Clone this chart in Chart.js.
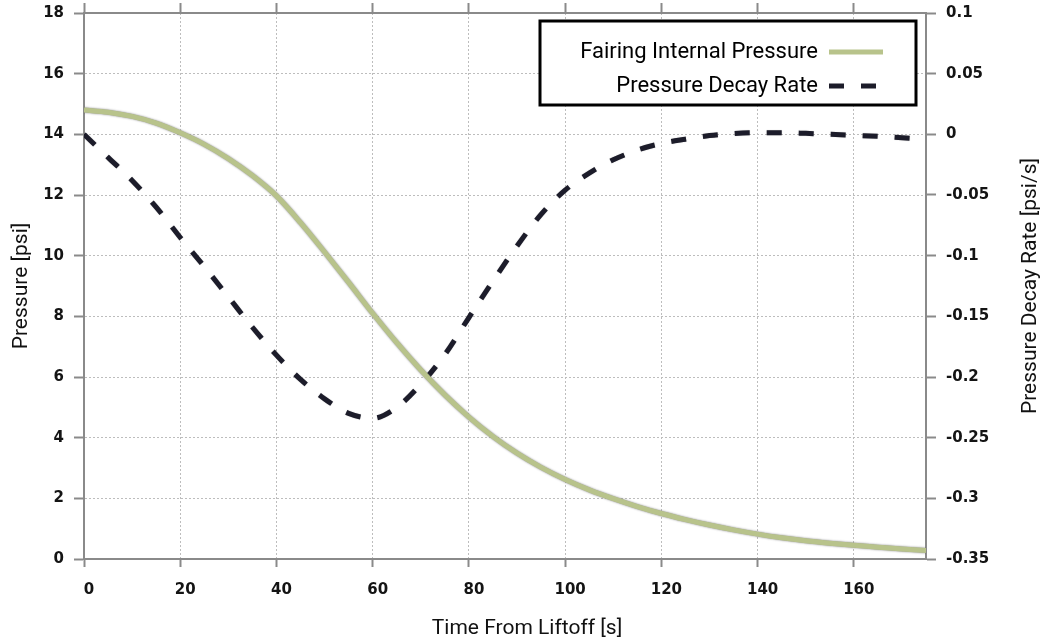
<!DOCTYPE html>
<html>
<head>
<meta charset="utf-8">
<script src="https://cdn.jsdelivr.net/npm/chart.js@4"></script>
<style>
html,body{margin:0;padding:0;background:#ffffff;}
#wrap{width:1047px;height:644px;position:relative;}
</style>
</head>
<body>
<div id="wrap"><canvas id="c"></canvas></div>
<script>
// ---- data ----
const timeFromLiftoff = [0,5,10,15,20,25,30,35,40,45,50,55,60,65,70,75,80,85,90,95,100,105,110,115,120,125,130,135,140,145,150,155,160,165,170,175];
const fairingPressure = [14.8,14.73,14.59,14.37,14.05,13.67,13.2,12.64,11.97,11.09,10.12,9.12,8.1,7.13,6.23,5.41,4.68,4.04,3.49,3.02,2.62,2.28,1.99,1.73,1.5,1.3,1.12,0.96,0.82,0.7,0.6,0.52,0.45,0.39,0.33,0.28];
const pressureDecayRate = [0,-0.019,-0.038,-0.06,-0.085,-0.109,-0.134,-0.159,-0.182,-0.202,-0.218,-0.23,-0.234,-0.225,-0.206,-0.1815,-0.151,-0.121,-0.092,-0.066,-0.046,-0.032,-0.021,-0.013,-0.0075,-0.004,-0.001,0.0007,0.0014,0.0014,0.0008,0,-0.0008,-0.0016,-0.0028,-0.004];
const seriesLabels = ['Fairing Internal Pressure','Pressure Decay Rate'];
const axisTitles = {x:'Time From Liftoff [s]', y:'Pressure [psi]', y1:'Pressure Decay Rate [psi/s]'};
const xRange = {min:0, max:175, step:20};
const yRange = {min:0, max:18, step:2};
const y1Range = {min:-0.35, max:0.1, step:0.05};

// ---- styling ----
const tickFont = {family:'DejaVu Sans', size:15, weight:'bold'};
const titleFont = {family:'Roboto', size:21};
const legendFont = {family:'Roboto', size:22};
const gridCol = '#bdbdbd';
const axisCol = '#8a8a8a';
const tickTextCol = '#141414';

function drawText(ctx, text, x, y, rot){
  ctx.save();
  ctx.translate(x, y);
  ctx.rotate(rot);
  ctx.font = titleFont.size + 'px ' + titleFont.family;
  ctx.fillStyle = '#111111';
  ctx.textAlign = 'center';
  ctx.textBaseline = 'middle';
  ctx.fillText(text, 0, 0);
  ctx.restore();
}

const legendFrame = {
  id:'legendFrame',
  afterLayout(chart){
    const lg = chart.legend, ca = chart.chartArea;
    lg.left = ca.right - 386; lg.width = 355; lg.right = lg.left + lg.width;
    lg.top = ca.top + 16; lg.height = 100; lg.bottom = lg.top + lg.height;
  },
  afterDraw(chart){
    const ctx = chart.ctx, ca = chart.chartArea;
    const x0 = ca.right - 386, y0 = ca.top + 8, x1 = ca.right - 10, y1 = ca.top + 92;
    ctx.save();
    ctx.fillStyle = '#ffffff';
    ctx.fillRect(x0, y0, x1 - x0, y1 - y0);
    ctx.lineWidth = 3;
    ctx.strokeStyle = '#000000';
    ctx.strokeRect(x0, y0, x1 - x0, y1 - y0);
    ctx.restore();
    chart.legend.draw();
    // right axis title (reads bottom-to-top) and bottom axis title
    const s1 = chart.scales.y1, sx = chart.scales.x;
    drawText(ctx, axisTitles.y1, s1.right - 16, (ca.top + ca.bottom) / 2, -Math.PI / 2);
    drawText(ctx, axisTitles.x, (ca.left + ca.right) / 2 + 22, sx.bottom - 15, 0);
  }
};
const lineHalo = {
  id:'lineHalo',
  beforeDatasetDraw(chart, args){
    const c = chart.ctx; c.save();
    c.shadowColor = args.index === 0 ? 'rgba(100,100,100,0.85)' : 'rgba(70,70,70,0.4)';
    c.shadowBlur = args.index === 0 ? 2 : 1;
  },
  afterDatasetDraw(chart){ chart.ctx.restore(); }
};

const gridBase = {color:gridCol, lineWidth:1, tickColor:axisCol, tickWidth:2, tickBorderDash:[]};
const borderBase = {color:axisCol, width:2, dash:[2,2]};
const noPad = (s) => { s.paddingTop = 0; s.paddingBottom = 0; };

new Chart(document.getElementById('c'), {
  type:'line',
  data:{
    datasets:[
      {
        label:seriesLabels[0],
        data:timeFromLiftoff.map((t,i)=>({x:t, y:fairingPressure[i]})),
        xAxisID:'x', yAxisID:'y',
        borderColor:'#b8c38b', backgroundColor:'#b8c38b', borderWidth:5,
        pointRadius:0, cubicInterpolationMode:'monotone', fill:false
      },
      {
        label:seriesLabels[1],
        data:timeFromLiftoff.map((t,i)=>({x:t, y:pressureDecayRate[i]})),
        xAxisID:'x', yAxisID:'y1',
        borderColor:'#1c1c2a', backgroundColor:'#1c1c2a', borderWidth:5,
        borderDash:[15,17], borderCapStyle:'butt',
        pointRadius:0, cubicInterpolationMode:'monotone', fill:false
      }
    ]
  },
  options:{
    responsive:true, maintainAspectRatio:false, animation:false,
    layout:{padding:0},
    plugins:{
      tooltip:{enabled:false},
      legend:{
        position:'chartArea', rtl:true, align:'start',
        labels:{
          usePointStyle:true, pointStyle:'line', pointStyleWidth:54, boxWidth:54, boxHeight:22,
          padding:12, font:legendFont, color:'#000000',
          generateLabels(chart){
            const items = Chart.defaults.plugins.legend.labels.generateLabels(chart);
            items.forEach((it, i) => {
              const ds = chart.data.datasets[it.datasetIndex !== undefined ? it.datasetIndex : i];
              it.lineDash = ds.borderDash || [];
              it.lineWidth = ds.borderWidth;
              it.strokeStyle = ds.borderColor;
              it.lineCap = 'butt';
            });
            return items;
          }
        }
      }
    },
    scales:{
      x:{
        type:'linear', position:'bottom', min:xRange.min, max:xRange.max,
        ticks:{stepSize:xRange.step, includeBounds:false, font:tickFont, color:tickTextCol, padding:14, labelOffset:5, maxRotation:0, autoSkip:false},
        grid:Object.assign({tickLength:8}, gridBase),
        border:borderBase,
        title:{display:false, text:axisTitles.x},
        afterFit(s){ s.height = 85; }
      },
      x2:{
        type:'linear', position:'top', min:xRange.min, max:xRange.max,
        ticks:{stepSize:xRange.step, includeBounds:false, display:false},
        grid:Object.assign({tickLength:10, drawOnChartArea:false}, gridBase),
        border:{color:axisCol, width:2},
        afterFit(s){ s.height = 13; }
      },
      y:{
        type:'linear', position:'left', min:yRange.min, max:yRange.max,
        ticks:{stepSize:yRange.step, font:tickFont, color:tickTextCol, padding:10},
        grid:Object.assign({tickLength:10}, gridBase),
        border:borderBase,
        title:{display:true, text:axisTitles.y, font:titleFont, color:'#111111', padding:{top:9, bottom:0}},
        afterFit(s){ s.width = 84; noPad(s); }
      },
      y1:{
        type:'linear', position:'right', min:y1Range.min, max:y1Range.max,
        ticks:{stepSize:y1Range.step, font:tickFont, color:tickTextCol, padding:10,
               callback:(v) => String(Math.round(v * 100) / 100)},
        grid:Object.assign({tickLength:10, drawOnChartArea:false}, gridBase),
        border:{color:axisCol, width:2},
        title:{display:false, text:axisTitles.y1},
        afterFit(s){ s.width = 121; noPad(s); }
      }
    }
  },
  plugins:[lineHalo, legendFrame]
});
</script>
</body>
</html>
